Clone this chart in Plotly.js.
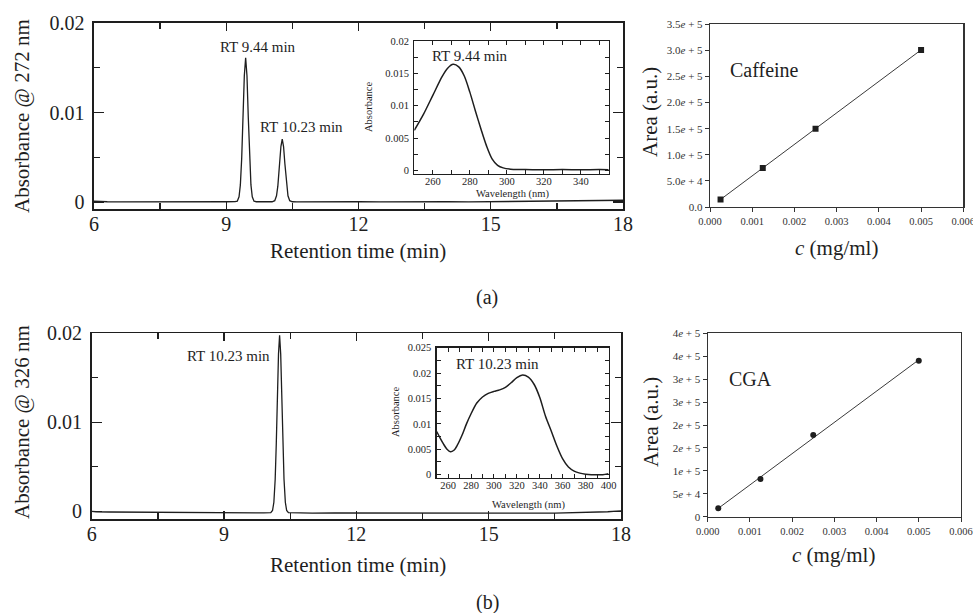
<!DOCTYPE html>
<html><head><meta charset="utf-8">
<script src="https://cdn.plot.ly/plotly-3.0.1.min.js"></script>
<style>html,body{margin:0;padding:0;background:#fff}#chart{width:973px;height:613px}</style>
</head><body><div id="chart"></div>
<script>
// ---------------- data ----------------
// (a) chromatogram at 272 nm
const chromA_time = [6.00, 6.05, 6.10, 6.30, 6.60, 7.00, 7.40, 7.80, 8.20, 8.60, 9.00, 9.20, 9.25, 9.29, 9.32, 9.35, 9.38, 9.41, 9.44, 9.47, 9.50, 9.53, 9.56, 9.59, 9.63, 9.68, 9.80, 9.95, 10.04, 10.10, 10.14, 10.17, 10.21, 10.24, 10.27, 10.30, 10.33, 10.37, 10.40, 10.44, 10.50, 10.60, 10.80, 11.20, 11.60, 12.00, 12.50, 13.00, 13.50, 14.00, 14.50, 15.00, 15.50, 16.00, 16.50, 17.00, 17.40, 17.70, 17.90, 18.00];
const chromA_abs = [0.00010, 0.00008, 0.00005, 0.00003, 0.00002, 0.00001, -0.00001, 0.00002, 0.00000, 0.00001, 0.00003, 0.00005, 0.00010, 0.00059, 0.00191, 0.00485, 0.00945, 0.01411, 0.01612, 0.01411, 0.00945, 0.00485, 0.00191, 0.00059, 0.00010, 0.00003, 0.00002, 0.00001, 0.00003, 0.00015, 0.00069, 0.00177, 0.00427, 0.00620, 0.00702, 0.00620, 0.00427, 0.00177, 0.00069, 0.00015, 0.00003, 0.00001, 0.00002, 0.00000, 0.00001, 0.00003, 0.00001, 0.00004, 0.00002, 0.00003, 0.00001, 0.00003, 0.00005, 0.00004, 0.00006, 0.00009, 0.00013, 0.00017, 0.00019, 0.00020];
// (a) inset UV spectrum of the 9.44 min peak
const specA_nm  = [250, 255, 260, 265, 268, 271, 274, 277, 280, 283, 286, 289, 292, 295, 298, 302, 306, 310, 320, 330, 340, 350, 355];
const specA_abs = [0.0062, 0.0087, 0.0116, 0.0145, 0.0158, 0.0164, 0.0160, 0.0146, 0.0121, 0.0092, 0.0064, 0.0038, 0.0018, 0.0008, 0.0004, 0.0002, 0.00015, 0.00015, 0.0001, 0.00015, 0.0001, 0.00015, 0.0001];
// (a) caffeine calibration
const cafConc = [0.00025, 0.00125, 0.0025, 0.005];
const cafArea = [14500, 74700, 150000, 301000];

// (b) chromatogram at 326 nm
const chromB_time = [6.00, 6.05, 6.10, 6.40, 6.80, 7.20, 7.60, 8.00, 8.40, 8.80, 9.20, 9.60, 9.90, 10.06, 10.10, 10.13, 10.16, 10.185, 10.21, 10.235, 10.26, 10.285, 10.31, 10.335, 10.36, 10.39, 10.42, 10.46, 10.60, 11.00, 11.50, 12.00, 12.50, 13.00, 13.50, 14.00, 14.50, 15.00, 15.50, 16.00, 16.50, 17.00, 17.40, 17.70, 17.90, 18.00];
const chromB_abs = [0.00000, -0.00002, -0.00005, -0.00008, -0.00010, -0.00012, -0.00013, -0.00014, -0.00016, -0.00015, -0.00017, -0.00018, -0.00018, -0.00016, 0.00009, 0.00101, 0.00359, 0.00761, 0.01290, 0.01766, 0.01978, 0.01766, 0.01290, 0.00761, 0.00359, 0.00101, 0.00009, -0.00016, -0.00019, -0.00020, -0.00019, -0.00020, -0.00021, -0.00020, -0.00022, -0.00021, -0.00022, -0.00021, -0.00020, -0.00021, -0.00020, -0.00017, -0.00012, -0.00005, 0.00002, 0.00005];
// (b) inset UV spectrum of the 10.23 min peak
const specB_nm  = [250, 253, 256, 259, 262, 265, 268, 272, 276, 280, 285, 290, 295, 300, 305, 310, 315, 320, 325, 330, 335, 340, 345, 350, 355, 360, 365, 370, 375, 380, 385, 390, 395, 400];
const specB_abs = [0.0085, 0.0072, 0.0060, 0.0050, 0.0045, 0.0048, 0.0058, 0.0077, 0.0100, 0.0120, 0.0141, 0.0153, 0.0160, 0.0164, 0.0167, 0.0172, 0.0181, 0.0191, 0.0196, 0.0192, 0.0178, 0.0152, 0.0115, 0.0086, 0.0056, 0.0031, 0.0015, 0.0007, 0.0003, 0.0001, 0.0000, 0.0000, 0.0000, 0.0002];
// (b) CGA calibration
const cgaConc = [0.00025, 0.00125, 0.0025, 0.005];
const cgaArea = [18300, 82000, 178000, 340000];

// tick labels
const chromXTicks = [6, 9, 12, 15, 18];
const chromXMinor = [7.5, 10.5, 13.5, 16.5];
const chromYTicks = [0, 0.01, 0.02];
const chromYTickText = ['0', '0.01', '0.02'];
const chromYMinor = [0.005, 0.015];
const specATicksX = [260, 280, 300, 320, 340];
const specATicksY = [0, 0.005, 0.01, 0.015, 0.02];
const specATextY = ['0', '0.005', '0.01', '0.015', '0.02'];
const specBTicksX = [260, 280, 300, 320, 340, 360, 380, 400];
const specBTicksY = [0, 0.005, 0.01, 0.015, 0.02, 0.025];
const specBTextY = ['0', '0.005', '0.01', '0.015', '0.02', '0.025'];
const calTicksX = [0, 0.001, 0.002, 0.003, 0.004, 0.005, 0.006];
const calTextX = ['0.000', '0.001', '0.002', '0.003', '0.004', '0.005', '0.006'];
const cafTicksY = [0, 50000, 100000, 150000, 200000, 250000, 300000, 350000];
const cafTextY = ['0.0', '5.0<i>e</i> + 4', '1.0<i>e</i> + 5', '1.5<i>e</i> + 5', '2.0<i>e</i> + 5', '2.5<i>e</i> + 5', '3.0<i>e</i> + 5', '3.5<i>e</i> + 5'];
const cgaTicksY = [0, 50000, 100000, 150000, 200000, 250000, 300000, 350000, 400000];
const cgaTextY = ['0', '5<i>e</i> + 4', '1<i>e</i> + 5', '2<i>e</i> + 5', '2<i>e</i> + 5', '3<i>e</i> + 5', '3<i>e</i> + 5', '4<i>e</i> + 5', '4<i>e</i> + 5'];

// ---------------- layout helpers ----------------
const W = 973, H = 613;
const px = x => x / W;
const py = y => 1 - y / H;
const FONT = 'Liberation Serif, Times New Roman, serif';
const INK = '#1e1e1e';

function linFit(x, y) {
  const n = x.length;
  const mx = x.reduce((a, b) => a + b, 0) / n;
  const my = y.reduce((a, b) => a + b, 0) / n;
  let sxy = 0, sxx = 0;
  for (let i = 0; i < n; i++) { sxy += (x[i] - mx) * (y[i] - my); sxx += (x[i] - mx) ** 2; }
  const k = sxy / sxx, b = my - k * mx;
  const xs = [Math.min(...x), Math.max(...x)];
  return { x: xs, y: xs.map(v => k * v + b) };
}

function frame(o) {
  return Object.assign({
    showline: true, linecolor: INK, mirror: 'allticks', showgrid: false, zeroline: false,
    ticks: 'inside', tickcolor: INK, fixedrange: true
  }, o);
}
function minor(vals, len, w) {
  return { tickvals: vals, ticks: 'inside', ticklen: len, tickwidth: w, tickcolor: INK, showgrid: false };
}
function minorD(d, t0, len, w) {
  return { dtick: d, tick0: t0, ticks: 'inside', ticklen: len, tickwidth: w, tickcolor: INK, showgrid: false };
}

const mainX = (l, r, anchor) => frame({
  domain: [px(l), px(r)], anchor: anchor, range: [6, 18], tickmode: 'array', tickvals: chromXTicks,
  ticklen: 8, tickwidth: 1.3, linewidth: 1.6, minor: minor(chromXMinor, 6, 1.3),
  tickfont: { size: 20, color: INK, family: FONT }, ticklabelstandoff: -4
});
const mainY = (t, b, ymin, anchor) => frame({
  domain: [py(b), py(t)], anchor: anchor, range: [ymin, 0.02], tickmode: 'array', tickvals: chromYTicks,
  ticktext: chromYTickText, ticklen: 10, tickwidth: 1.3, linewidth: 1.6, minor: minor(chromYMinor, 6, 1.3),
  tickfont: { size: 20, color: INK, family: FONT }, ticklabelstandoff: 4
});
const insetX = (l, r, range, ticks, anchor) => frame({
  domain: [px(l), px(r)], anchor: anchor, range: range, tickmode: 'array', tickvals: ticks,
  ticklen: 4, tickwidth: 1, linewidth: 1.3, minor: minorD(10, 250, 4, 1),
  tickfont: { size: 10.5, color: INK, family: FONT }, ticklabelstandoff: -3
});
const insetY = (t, b, range, ticks, text, anchor) => frame({
  domain: [py(b), py(t)], anchor: anchor, range: range, tickmode: 'array', tickvals: ticks, ticktext: text,
  ticklen: 4, tickwidth: 1, linewidth: 1.3, minor: minorD(0.0025, 0, 4, 1),
  tickfont: { size: 10.5, color: INK, family: FONT }, ticklabelstandoff: 2
});
const calX = (l, r, anchor) => ({
  domain: [px(l), px(r)], anchor: anchor, range: [0, 0.006], tickmode: 'array', tickvals: calTicksX, ticktext: calTextX,
  showline: true, mirror: true, linecolor: '#333', linewidth: 1.2, ticks: 'outside', ticklen: 4, tickwidth: 1,
  tickcolor: '#333', showgrid: false, zeroline: false, tickfont: { size: 10.5, color: '#333', family: FONT },
  ticklabeloverflow: 'allow', fixedrange: true
});
const calY = (t, b, range, ticks, text, anchor) => ({
  domain: [py(b), py(t)], anchor: anchor, range: range, tickmode: 'array', tickvals: ticks, ticktext: text,
  showline: true, mirror: true, linecolor: '#333', linewidth: 1.2, ticks: 'outside', ticklen: 4, tickwidth: 1,
  tickcolor: '#333', showgrid: false, zeroline: false, tickfont: { size: 11, color: '#333', family: FONT }, fixedrange: true
});

const cafFit = linFit(cafConc, cafArea);
const cgaFit = linFit(cgaConc, cgaArea);

const traces = [
  { x: chromA_time, y: chromA_abs, xaxis: 'x', yaxis: 'y', mode: 'lines', line: { color: INK, width: 1.3 } },
  { x: specA_nm, y: specA_abs, xaxis: 'x2', yaxis: 'y2', mode: 'lines', line: { color: INK, width: 1.5, shape: 'spline', smoothing: 0.8 } },
  { x: cafFit.x, y: cafFit.y, xaxis: 'x3', yaxis: 'y3', mode: 'lines', line: { color: '#3a3a3a', width: 1 } },
  { x: cafConc, y: cafArea, xaxis: 'x3', yaxis: 'y3', mode: 'markers', marker: { symbol: 'square', size: 6, color: INK } },
  { x: chromB_time, y: chromB_abs, xaxis: 'x4', yaxis: 'y4', mode: 'lines', line: { color: INK, width: 1.3 } },
  { x: specB_nm, y: specB_abs, xaxis: 'x5', yaxis: 'y5', mode: 'lines', line: { color: INK, width: 1.5, shape: 'spline', smoothing: 0.8 } },
  { x: cgaFit.x, y: cgaFit.y, xaxis: 'x6', yaxis: 'y6', mode: 'lines', line: { color: '#3a3a3a', width: 1 } },
  { x: cgaConc, y: cgaArea, xaxis: 'x6', yaxis: 'y6', mode: 'markers', marker: { symbol: 'circle', size: 6, color: INK } }
];

function note(text, x, y, size, angle) {
  return { text: text, x: px(x), y: py(y), xref: 'paper', yref: 'paper', showarrow: false,
    xanchor: 'center', yanchor: 'middle', textangle: angle || 0, font: { size: size, color: INK, family: FONT } };
}

const annotations = [
  // panel (a)
  note('Absorbance @ 272 nm', 22, 116, 21, -90),
  note('Retention time (min)', 358, 251, 21),
  note('RT 9.44 min', 257.5, 47, 15),
  note('RT 10.23 min', 301, 127, 15),
  note('RT 9.44 min', 469.5, 56, 15),
  note('Absorbance', 369, 107, 10.5, -90),
  note('Wavelength (nm)', 512, 194, 10.5),
  note('Caffeine', 764, 70, 20),
  note('Area (a.u.)', 650, 112, 21, -90),
  note('<i>c</i> (mg/ml)', 836, 248, 21),
  note('(a)', 487, 297, 20),
  // panel (b)
  note('Absorbance @ 326 nm', 22, 422, 21, -90),
  note('Retention time (min)', 358, 565, 21),
  note('RT 10.23 min', 228, 356, 15),
  note('RT 10.23 min', 497.5, 364, 15),
  note('Absorbance', 395, 412, 10.5, -90),
  note('Wavelength (nm)', 528, 505, 10.5),
  note('CGA', 750, 379, 20),
  note('Area (a.u.)', 651, 422, 21, -90),
  note('<i>c</i> (mg/ml)', 833, 555, 21),
  note('(b)', 487, 602, 20)
];

const layout = {
  width: W, height: H, margin: { l: 0, r: 0, t: 0, b: 0, pad: 0 },
  paper_bgcolor: '#ffffff', plot_bgcolor: 'rgba(0,0,0,0)',
  font: { family: FONT, color: INK },
  showlegend: false, hovermode: false,
  xaxis: mainX(94, 623, 'y'),
  yaxis: mainY(23, 209, -0.00078, 'x'),
  xaxis2: insetX(414.3, 608.7, [250, 355], specATicksX, 'y2'),
  yaxis2: insetY(41, 173.7, [-0.0005, 0.02], specATicksY, specATextY, 'x2'),
  xaxis3: calX(710, 963.3, 'y3'),
  yaxis3: calY(24.3, 207, [0, 350000], cafTicksY, cafTextY, 'x3'),
  xaxis4: mainX(91.7, 621, 'y4'),
  yaxis4: mainY(333.3, 519.3, -0.0009, 'x4'),
  xaxis5: insetX(436.7, 608.5, [250, 400], specBTicksX, 'y5'),
  yaxis5: insetY(347.7, 477.7, [-0.0006, 0.025], specBTicksY, specBTextY, 'x5'),
  xaxis6: calX(707.7, 961, 'y6'),
  yaxis6: calY(333.3, 516.7, [0, 400000], cgaTicksY, cgaTextY, 'x6'),
  annotations: annotations
};

Plotly.newPlot('chart', traces, layout, { displayModeBar: false, staticPlot: true });
</script></body></html>
